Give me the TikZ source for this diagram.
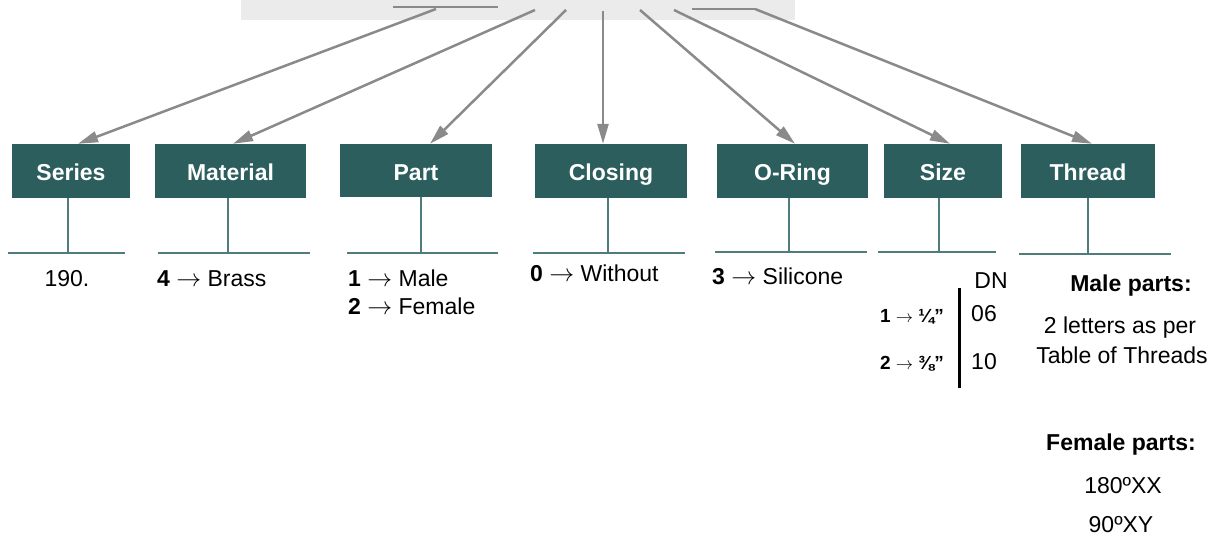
\documentclass[tikz,border=0pt]{standalone}
\usepackage{fontspec}
\setmainfont{Liberation Sans}
\usetikzlibrary{arrows.meta}

\definecolor{boxteal}{HTML}{2C5E5E}
\definecolor{stemteal}{HTML}{4F7C7C}
\definecolor{arrowgray}{HTML}{8A8A8A}
\definecolor{bandgray}{HTML}{EBEBEB}

\begin{document}
\begin{tikzpicture}[x=1pt, y=-1pt,
    field/.style={fill=boxteal, text=white, font=\fontsize{23}{27}\selectfont\bfseries,
        minimum height=54pt, inner sep=0pt, text height=22pt, text depth=2pt},
    pick/.style={draw=arrowgray, line width=2.5pt, -{Triangle[length=20pt,width=11pt]}},
    stem/.style={draw=stemteal, line width=1.5pt},
    code/.style={font=\fontsize{23}{27}\selectfont, inner sep=0pt},
    small/.style={font=\fontsize{19}{23}\selectfont, inner sep=0pt}]
    \useasboundingbox (0,0) rectangle (1213,537);

    % Code band at the top
    \fill[bandgray] (241,0) rectangle (795,20);
    \draw[arrowgray, line width=2pt] (393,7) -- (498,7);
    \draw[arrowgray, line width=2pt] (692,9) -- (755,9);
    \coordinate (t1) at (436,9);
    \coordinate (t2) at (535,10);
    \coordinate (t3) at (566,10);
    \coordinate (t4) at (603,11);
    \coordinate (t5) at (640,10);
    \coordinate (t6) at (674,10);
    \coordinate (t7) at (755,9);

    % Define fields
    \node[field, minimum width=118pt] (series) at (71,171) {Series};
    \node[field, minimum width=151pt] (material) at (230.5,171) {Material};
    \node[field, minimum width=152pt, minimum height=53pt] (part) at (416,170.5) {Part};
    \node[field, minimum width=152pt] (closing) at (611,171) {Closing};
    \node[field, minimum width=151pt] (oring) at (792.5,171) {O-Ring};
    \node[field, minimum width=118pt] (size) at (943,171) {Size};
    \node[field, minimum width=134pt] (thread) at (1088,171) {Thread};

    % Draw arrows from the code
    \draw[pick] (t1) -- ([xshift=7pt]series.north);
    \draw[pick] (t2) -- ([xshift=2.5pt]material.north);
    \draw[pick] (t3) -- ([xshift=14pt]part.north);
    \draw[pick] (t4) -- ([xshift=-8pt]closing.north);
    \draw[pick] (t5) -- ([xshift=2.5pt]oring.north);
    \draw[pick] (t6) -- ([xshift=7pt]size.north);
    \draw[pick] (t7) -- ([xshift=4pt]thread.north);

    % Stems and bars
    \coordinate (f1) at (68,253);
    \coordinate (f2) at (228,253);
    \coordinate (f3) at (421,253);
    \coordinate (f4) at (608,253);
    \coordinate (f5) at (789,252);
    \coordinate (f6) at (939,252);
    \coordinate (f7) at (1088,254);
    \draw[stem] (series.south -| f1) -- (f1);
    \draw[stem] (material.south -| f2) -- (f2);
    \draw[stem] (part.south -| f3) -- (f3);
    \draw[stem] (closing.south -| f4) -- (f4);
    \draw[stem] (oring.south -| f5) -- (f5);
    \draw[stem] (size.south -| f6) -- (f6);
    \draw[stem] (thread.south -| f7) -- (f7);
    \draw[stem] (8,253) -- (125,253);
    \draw[stem] (158,253) -- (310,253);
    \draw[stem] (347,253) -- (498,253);
    \draw[stem] (533,253) -- (685,253);
    \draw[stem] (715,252) -- (867,252);
    \draw[stem] (878,252) -- (996,252);
    \draw[stem] (1019,254) -- (1171,254);

    % Values
    \node[code, anchor=base] (v190) at (67,287) {190.};
    \node[code, anchor=base west] (brass) at (157,287) {\textbf{4} $\rightarrow$ Brass};
    \node[code, anchor=base west] (male) at (348,287) {\textbf{1} $\rightarrow$ Male};
    \node[code, anchor=base west] (female) at (348,315) {\textbf{2} $\rightarrow$ Female};
    \node[code, anchor=base west] (without) at (530,282) {\textbf{0} $\rightarrow$ Without};
    \node[code, anchor=base west] (silicone) at (712,285) {\textbf{3} $\rightarrow$ Silicone};

    % Size column
    \node[code, anchor=base] (dn) at (991,289) {DN};
    \node[small, anchor=base east] (quarter) at (944,323) {\textbf{1} $\rightarrow$ \textbf{¼"}};
    \node[small, anchor=base east] (threeeighth) at (944,370) {\textbf{2} $\rightarrow$ \textbf{⅜"}};
    \node[code, anchor=base] (dn06) at (984,322) {06};
    \node[code, anchor=base] (dn10) at (984,370) {10};
    \draw[black, line width=3pt] (959,288) -- (959,388);

    % Thread column
    \node[code, anchor=base] (maleparts) at (1131,292) {\textbf{Male parts:}};
    \node[code, anchor=base] (letters) at (1120,334) {2 letters as per};
    \node[code, anchor=base] (table) at (1122,363) {Table of Threads};
    \node[code, anchor=base] (femaleparts) at (1121,450) {\textbf{Female parts:}};
    \node[code, anchor=base] (xx) at (1123,493) {180ºXX};
    \node[code, anchor=base] (xy) at (1121,532) {90ºXY};
\end{tikzpicture}
\end{document}
